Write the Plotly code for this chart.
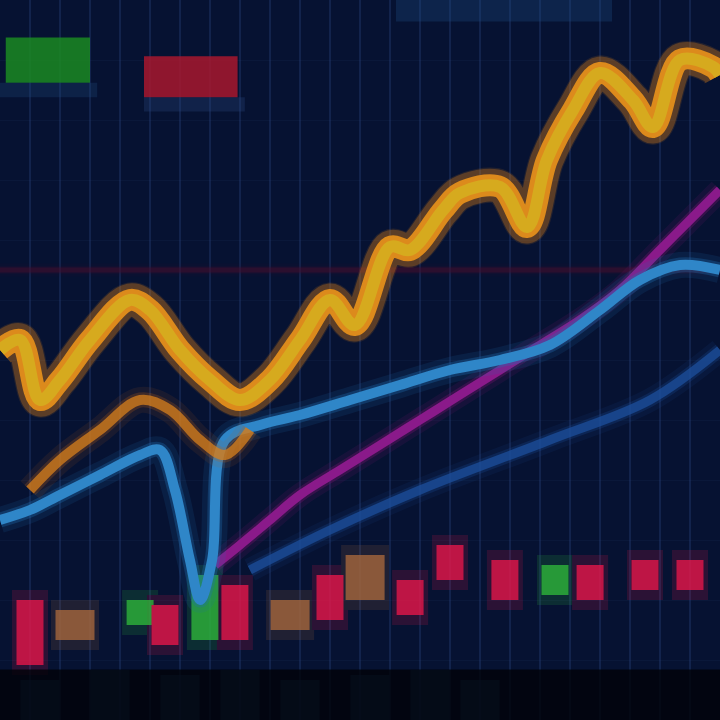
import plotly.graph_objects as go

# ---- data (x = trading session index, y = price level) ----
price_x = [0, 0.67, 1.33, 2, 3, 4.33, 5, 6, 7, 8, 9, 10, 11, 11.83, 13, 13.67,
           14.77, 15.33, 16.67, 17.57, 18.23, 19.1, 20, 21.1, 21.77, 22.67, 23.77, 24]
price_y = [37, 38, 32, 34, 38, 42, 41, 37, 34, 32, 34, 38, 42, 39.5, 47.3, 47,
           51, 52.7, 53.3, 49.3, 56, 61, 64.7, 62, 59.3, 66, 65.3, 64.5]

lower_x = [1, 2, 3.33, 4.67, 5.67, 6.67, 7.5, 8.33]
lower_y = [23, 26, 29, 32, 31, 28, 26.5, 29]

blue_x = [0, 1, 2, 3.33, 4.67, 5.33, 5.83, 6.33, 6.67, 7.07, 7.5, 8.67, 10, 11.67,
          13.33, 15, 16.67, 18.33, 20, 21.33, 22.67, 24]
blue_y = [20, 21, 22.5, 24.5, 26.5, 27, 23, 16, 12, 16, 28, 29.5, 30.5, 32,
          33.5, 35, 36, 37.5, 41, 44, 45.5, 45]

magenta_x = [7.17, 8, 9, 10, 11.33, 12.67, 14, 15.33, 16.67, 18, 19.33, 20.67, 22, 23.33, 24]
magenta_y = [15.5, 17.5, 20, 22.5, 25, 27.5, 30, 32.5, 35, 37.5, 40, 43, 47, 51, 53]

navy_x = [8.33, 11, 14, 18.33, 21.67, 24]
navy_y = [15, 19, 23, 28, 32, 37]

level_x = [0, 24]
level_y = [45, 45]

candle_x = [1, 2.5, 4.67, 5.5, 6.83, 7.83, 9.67, 11, 12.17, 13.67, 15, 16.83, 18.5, 19.67, 21.5, 23]
candle_lo = [5.5, 8, 9.5, 7.5, 8, 8, 9, 10, 12, 10.5, 14, 12, 12.5, 12, 13, 13]
candle_hi = [12, 11, 12, 11.5, 14.5, 13.5, 12, 14.5, 16.5, 14, 17.5, 16, 15.5, 15.5, 16, 16]
candle_kind = ["down", "flat", "up", "down", "up", "down", "flat", "down", "flat",
               "down", "down", "down", "up", "down", "down", "down"]

vol_x = [1.33, 3.67, 6, 8, 10, 12.33, 14.33, 16]
vol_y = [4, 5, 4.5, 5, 4, 4.5, 5, 4]

kind_color = {"up": "#2fb83a", "down": "#e8174a", "flat": "#a8683c"}

fig = go.Figure()


def glow_line(x, y, color, width, glow_color=None, glow=2.6, opacity=1.0):
    gc = glow_color or color
    fig.add_trace(go.Scatter(x=x, y=y, mode="lines", line=dict(color=gc, width=width * glow, shape="spline"),
                             opacity=0.14 * opacity, hoverinfo="skip", showlegend=False))
    fig.add_trace(go.Scatter(x=x, y=y, mode="lines", line=dict(color=gc, width=width * 1.5, shape="spline"),
                             opacity=0.32 * opacity, hoverinfo="skip", showlegend=False))
    fig.add_trace(go.Scatter(x=x, y=y, mode="lines", line=dict(color=color, width=width, shape="spline"),
                             opacity=opacity, hoverinfo="skip", showlegend=False))


# reference level
glow_line(level_x, level_y, "#4a0e2c", 5, opacity=0.45)

# volume (faint blue)
fig.add_trace(go.Bar(x=vol_x, y=vol_y, base=0, width=1.3, marker=dict(color="#1d4f86", line_width=0),
                     opacity=0.45, hoverinfo="skip", showlegend=False))

# candles: soft halo + body
fig.add_trace(go.Bar(x=candle_x, y=[h - l + 2 for h, l in zip(candle_hi, candle_lo)],
                     base=[l - 1 for l in candle_lo],
                     width=[1.6 if k == "flat" else 1.2 for k in candle_kind],
                     marker=dict(color=[kind_color[k] for k in candle_kind], line_width=0),
                     opacity=0.16, hoverinfo="skip", showlegend=False))
fig.add_trace(go.Bar(x=candle_x, y=[h - l for h, l in zip(candle_hi, candle_lo)], base=candle_lo,
                     width=[1.3 if k == "flat" else 0.9 for k in candle_kind],
                     marker=dict(color=[kind_color[k] for k in candle_kind], line_width=0),
                     opacity=0.78, hoverinfo="skip", showlegend=False))

glow_line(navy_x, navy_y, "#1c4f9c", 9, opacity=0.75)
glow_line(magenta_x, magenta_y, "#8a1a8a", 9, glow_color="#7a1570")
glow_line(blue_x, blue_y, "#2f86c8", 10, glow_color="#1f6fb0")
glow_line(lower_x, lower_y, "#d8801c", 10, glow_color="#b8601a", opacity=0.75)

# main price line: orange underlay + yellow core
glow_line(price_x, price_y, "#dc8a1c", 22, glow_color="#d07a1a", glow=1.6)
fig.add_trace(go.Scatter(x=price_x, y=price_y, mode="lines",
                         line=dict(color="#d4b820", width=12, shape="spline"),
                         opacity=0.7, hoverinfo="skip", showlegend=False))

fig.update_layout(
    width=720, height=720,
    margin=dict(l=0, r=0, t=0, b=0),
    paper_bgcolor="#050a22",
    plot_bgcolor="#061232",
    barmode="overlay",
    xaxis=dict(range=[0, 24], showticklabels=False, zeroline=False, dtick=1,
               gridcolor="rgba(45,75,140,0.3)", gridwidth=2, fixedrange=True),
    yaxis=dict(range=[0, 72], showticklabels=False, zeroline=False, dtick=6,
               gridcolor="rgba(45,75,140,0.1)", fixedrange=True),
    shapes=[
        # legend swatches
        dict(type="rect", xref="paper", yref="paper", x0=0.008, x1=0.125, y0=0.885, y1=0.948,
             fillcolor="#1b8a22", line_width=0, opacity=0.85),
        dict(type="rect", xref="paper", yref="paper", x0=0.0, x1=0.135, y0=0.865, y1=0.885,
             fillcolor="#1f4a7a", line_width=0, opacity=0.3),
        dict(type="rect", xref="paper", yref="paper", x0=0.2, x1=0.33, y0=0.865, y1=0.922,
             fillcolor="#a8182e", line_width=0, opacity=0.85),
        dict(type="rect", xref="paper", yref="paper", x0=0.2, x1=0.34, y0=0.845, y1=0.865,
             fillcolor="#2a4a80", line_width=0, opacity=0.3),
        # top glow
        dict(type="rect", xref="paper", yref="paper", x0=0.55, x1=0.85, y0=0.97, y1=1.0,
             fillcolor="#1f4f88", line_width=0, opacity=0.3),
        # dark floor
        dict(type="rect", xref="paper", yref="paper", x0=0, x1=1, y0=0, y1=0.07,
             fillcolor="#010208", line_width=0, opacity=0.8, layer="above"),
    ],
)

fig.write_html("out.html", config={"displayModeBar": False},
               post_script="document.body.style.margin='0';")
